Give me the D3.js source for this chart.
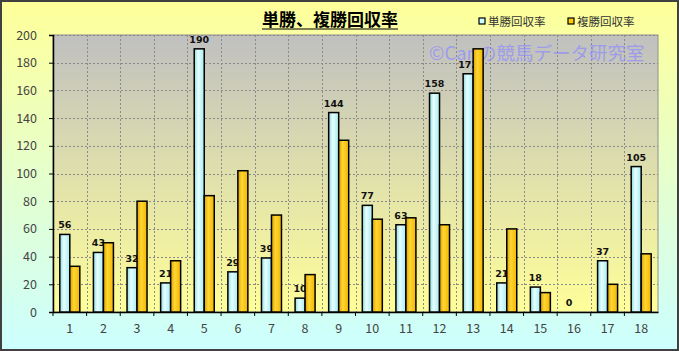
<!DOCTYPE html>
<html>
<head>
<meta charset="utf-8">
<script src="https://cdn.jsdelivr.net/npm/d3@7"></script>
<style>
  body { margin: 0; }
  svg { display: block; font-family: "Noto Sans CJK JP", "Noto Sans", sans-serif; }
</style>
</head>
<body>
<div id="chart"></div>
<script>
const categories = ["1","2","3","4","5","6","7","8","9","10","11","12","13","14","15","16","17","18"];
const winRate   = [56, 43, 32, 21, 190, 29, 39, 10, 144, 77, 63, 158, 172, 21, 18, 0, 37, 105];
const placeRate = [33, 50, 80, 37, 84, 102, 70, 27, 124, 67, 68, 63, 190, 60, 14, 0, 20, 42];
const seriesNames = ["単勝回収率", "複勝回収率"];
const yTicks = [0, 20, 40, 60, 80, 100, 120, 140, 160, 180, 200];

const width = 679, height = 351;
const margin = { top: 35, right: 21, bottom: 39, left: 53 };

const svg = d3.select("#chart").append("svg")
  .attr("width", width).attr("height", height);

const defs = svg.append("defs");
function grad(id, stops, horizontal) {
  const g = defs.append("linearGradient").attr("id", id)
    .attr("x1", 0).attr("y1", 0)
    .attr("x2", horizontal ? 1 : 0).attr("y2", horizontal ? 0 : 1);
  stops.forEach(s => g.append("stop").attr("offset", s[0]).attr("stop-color", s[1]));
}
grad("bgGrad", [[0, "#ffff99"], [1, "#ccffff"]], false);
grad("plotGrad", [[0, "#c0c0c0"], [1, "#ffff99"]], false);
grad("cyanGrad", [[0, "#8cdbe2"], [0.4, "#e6ffff"], [1, "#a8ebf0"]], true);
grad("goldGrad", [[0, "#d9a000"], [0.4, "#ffd633"], [1, "#f2b600"]], true);

// background
svg.append("rect").attr("x", 1).attr("y", 1)
  .attr("width", width - 2).attr("height", height - 2)
  .attr("fill", "url(#bgGrad)").attr("stroke", "#404040").attr("stroke-width", 2);

const x = d3.scaleBand().domain(categories)
  .range([margin.left, width - margin.right]);
const x1 = d3.scaleBand().domain(seriesNames)
  .range([0, x.bandwidth()]).paddingOuter(0.68);
const y = d3.scaleLinear().domain([0, 200])
  .range([height - margin.bottom, margin.top]);

// plot area
svg.append("rect")
  .attr("x", margin.left).attr("y", margin.top)
  .attr("width", width - margin.left - margin.right)
  .attr("height", y(0) - margin.top)
  .attr("fill", "url(#plotGrad)").attr("stroke", "#909090").attr("stroke-width", 1);

// grid
const grid = svg.append("g").attr("stroke", "#8a8a8a").attr("stroke-dasharray", "2,2").attr("stroke-width", 1);
grid.selectAll(".h").data(yTicks.slice(1)).join("line")
  .attr("x1", margin.left).attr("x2", width - margin.right)
  .attr("y1", d => Math.round(y(d)) + 0.5).attr("y2", d => Math.round(y(d)) + 0.5);
grid.selectAll(".v").data(categories.slice(1)).join("line")
  .attr("x1", d => Math.round(x(d)) + 0.5).attr("x2", d => Math.round(x(d)) + 0.5)
  .attr("y1", margin.top).attr("y2", y(0));

// axes
const yAxis = svg.append("g").attr("transform", `translate(${margin.left},0)`)
  .call(d3.axisLeft(y).tickValues(yTicks).tickSize(4).tickPadding(12));
const xAxis = svg.append("g").attr("transform", `translate(0,${y(0)})`)
  .call(d3.axisBottom(x).tickSize(4).tickSizeOuter(0).tickPadding(8));
[yAxis, xAxis].forEach(a => {
  a.select(".domain").attr("stroke", "#000").attr("stroke-width", 1.5);
  a.selectAll(".tick line").attr("stroke", "#000");
  a.selectAll("text").attr("font-size", 12.5).attr("fill", "#444")
    .attr("font-family", "'Noto Sans CJK JP', sans-serif");
});
xAxis.selectAll(".tick line").attr("transform", d => `translate(${-x.bandwidth() / 2},0)`);

// watermark
svg.append("text").attr("x", 429).attr("y", 60)
  .attr("font-size", 18.5).attr("fill", "#8c8cff").attr("opacity", 0.7)
  .text("©Canの競馬データ研究室");

const data = categories.map((c, i) => ({ c, win: winRate[i], place: placeRate[i] }));

// win bars
svg.append("g").selectAll("rect").data(data).join("rect")
  .attr("x", d => x(d.c) + x1(seriesNames[0]))
  .attr("y", d => y(d.win))
  .attr("width", x1.bandwidth())
  .attr("height", d => y(0) - y(d.win))
  .attr("fill", "url(#cyanGrad)").attr("stroke", "#000").attr("stroke-width", 1.5);

// labels
svg.append("g").selectAll("text").data(data).join("text")
  .attr("x", d => x(d.c) + x1(seriesNames[0]) + x1.bandwidth() / 2)
  .attr("y", d => y(d.win) - 6)
  .attr("text-anchor", "middle")
  .attr("font-size", 9.5).attr("font-weight", "bold").attr("fill", "#111")
  .attr("font-family", "'DejaVu Sans', sans-serif")
  .text(d => d.win);

// place bars
svg.append("g").selectAll("rect").data(data.filter(d => d.place > 0)).join("rect")
  .attr("x", d => x(d.c) + x1(seriesNames[1]))
  .attr("y", d => y(d.place))
  .attr("width", x1.bandwidth())
  .attr("height", d => y(0) - y(d.place))
  .attr("fill", "url(#goldGrad)").attr("stroke", "#000").attr("stroke-width", 1.5);

// title
const title = svg.append("text").attr("x", 330).attr("y", 26)
  .attr("text-anchor", "middle").attr("font-size", 17).attr("font-weight", "bold")
  .attr("fill", "#000").text("単勝、複勝回収率");
const tw = title.node().getComputedTextLength();
svg.append("line").attr("x1", 330 - tw / 2).attr("x2", 330 + tw / 2)
  .attr("y1", 29).attr("y2", 29).attr("stroke", "#000").attr("stroke-width", 1.2);

// legend
const legend = svg.append("g").selectAll("g").data(seriesNames).join("g")
  .attr("transform", (d, i) => `translate(${479 + i * 89},18)`);
legend.append("rect").attr("width", 6).attr("height", 6)
  .attr("fill", (d, i) => i ? "#ffcc00" : "#ccffff").attr("stroke", "#000").attr("stroke-width", 1.2);
legend.append("text").attr("x", 9).attr("y", 7.5)
  .attr("font-size", 11.5).attr("fill", "#333").text(d => d);
</script>
</body>
</html>
